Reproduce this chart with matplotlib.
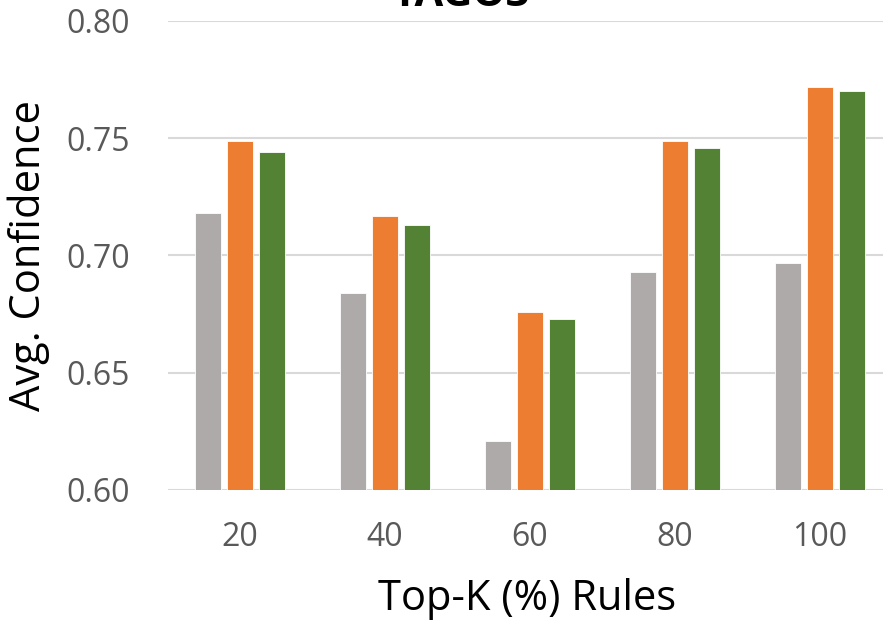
import numpy as np
import matplotlib
matplotlib.use("Agg")
import matplotlib.pyplot as plt

# data
categories = ["20", "40", "60", "80", "100"]
gray_vals = [0.718, 0.684, 0.621, 0.693, 0.697]
orange_vals = [0.749, 0.717, 0.676, 0.749, 0.772]
green_vals = [0.744, 0.713, 0.673, 0.746, 0.770]
yticks = [0.60, 0.65, 0.70, 0.75, 0.80]

plt.rcParams['font.family'] = ['Open Sans', 'DejaVu Sans']

fig = plt.figure(figsize=(8.83, 6.23), dpi=100)
ax = fig.add_axes([0.1897, 0.2135, 0.821, 0.7528])

x = np.arange(len(categories))
w = 0.18
step = 0.22
ax.bar(x - step, gray_vals, w, color="#AEAAAA", edgecolor="white", linewidth=0.6, zorder=3)
ax.bar(x, orange_vals, w, color="#ED7D31", edgecolor="white", linewidth=0.6, zorder=3)
ax.bar(x + step, green_vals, w, color="#548235", edgecolor="white", linewidth=0.6, zorder=3)

ax.set_ylim(0.60, 0.80)
ax.set_xlim(-0.5, len(categories) - 0.5)
ax.set_yticks(yticks)
ax.set_yticklabels([f"{v:.2f}" for v in yticks])
ax.set_xticks(x)
ax.set_xticklabels(categories)
ax.tick_params(axis="both", length=0, labelsize=23, labelcolor="#595959")
ax.tick_params(axis="y", pad=27)
ax.tick_params(axis="x", pad=22)
ax.yaxis.grid(True, color="#d9d9d9", linewidth=1.5, zorder=0)
for s in ax.spines.values():
    s.set_visible(False)

ax.set_xlabel("Top-K (%) Rules", fontsize=30, color="black")
ax.set_ylabel("Avg. Confidence", fontsize=30, color="black")
ax.xaxis.set_label_coords(0.496, -0.188)
ax.yaxis.set_label_coords(-0.162, 0.5)

fig.text(0.5 + 0.022, 1 - 6 / 623, "YAGO3", fontsize=30, fontweight="bold",
         ha="center", va="baseline")

fig.savefig("out.png", dpi=100)
